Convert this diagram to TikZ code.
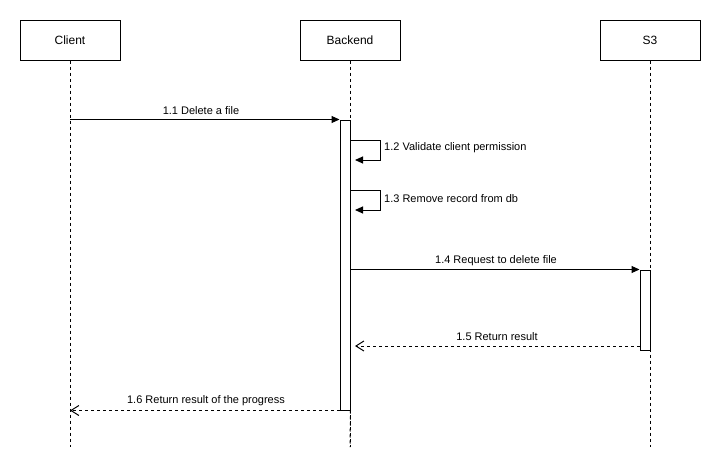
\documentclass[tikz,border=0pt]{standalone}
\usepackage{fontspec}
\setmainfont{Liberation Sans}
\usetikzlibrary{arrows.meta}
\begin{document}
\begin{tikzpicture}[x=1pt,y=-1pt,
  actor/.style={draw, line width=1pt, minimum width=100pt, minimum height=40pt, inner sep=0pt, font=\fontsize{12}{14}\selectfont},
  lifeline/.style={line width=1pt, dash pattern=on 3pt off 3pt},
  actbar/.style={draw, fill=white, line width=1pt, minimum width=10pt, inner sep=0pt},
  msg/.style={line width=1pt, -{Triangle[length=8pt,width=7pt]}},
  ret/.style={line width=1pt, dash pattern=on 3pt off 3pt, -{Straight Barb[length=8pt,width=10pt]}},
  lbl/.style={inner sep=0pt, font=\fontsize{11}{13}\selectfont}
]
\useasboundingbox (0,0) rectangle (721,471);
\fill[white] (0,0) rectangle (721,471);
% actors
\node[actor] (client) at (70,40) {Client};
\node[actor] (backend) at (350,40) {Backend};
\node[actor] (s3) at (650,40) {S3};
% lifelines
\coordinate (clientEnd) at (70,447);
\coordinate (backendEnd) at (350,447);
\coordinate (s3End) at (650,447);
\draw[lifeline] (client.south) -- (clientEnd);
\draw[lifeline] (backend.south) -- (backendEnd);
\draw[lifeline] (s3.south) -- (s3End);
% activation bars
\node[actbar, minimum height=290pt] (bact) at (345,265) {};
\node[actbar, minimum height=80pt] (sact) at (645,310) {};
\draw[lifeline] (bact.south east) -- (backendEnd);
% 1.1
\draw[msg] (client.south |- bact.north west) -- (bact.north west);
\node[lbl] (l11) at (201,111) {1.1 Delete a file};
% 1.2 self
\coordinate (a12) at (350,140);
\coordinate (b12) at (380,160);
\coordinate (c12) at (355,160);
\draw[msg] (a12) -| (b12) -- (c12);
\node[lbl, anchor=west] (l12) at (384,148) {1.2 Validate client permission};
% 1.3 self
\coordinate (a13) at (350,190);
\coordinate (b13) at (380,210);
\coordinate (c13) at (355,210);
\draw[msg] (a13) -| (b13) -- (c13);
\node[lbl, anchor=west] (l13) at (384,199) {1.3 Remove record from db};
% 1.4
\draw[msg] (bact.east |- sact.north west) -- (sact.north west);
\node[lbl] (l14) at (496,261) {1.4 Request to delete file};
% 1.5
\coordinate (r15) at (355,346);
\draw[ret] (sact.west |- r15) -- (r15);
\node[lbl] (l15) at (497,337) {1.5 Return result};
% 1.6
\draw[ret] (bact.south west) -- (client.south |- bact.south west);
\node[lbl] (l16) at (206,401) {1.6 Return result of the progress};
\end{tikzpicture}
\end{document}
